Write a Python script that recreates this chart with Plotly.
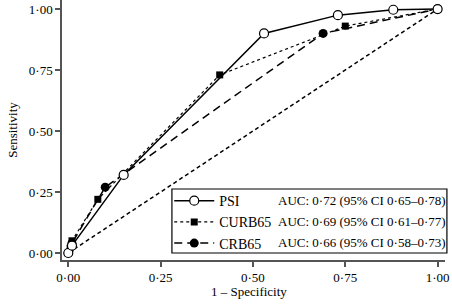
import plotly.graph_objects as go

# Data
psi_x = [0.0, 0.01, 0.15, 0.53, 0.73, 0.88, 1.0]
psi_y = [0.0, 0.03, 0.32, 0.90, 0.975, 0.997, 1.0]
curb_x = [0.0, 0.005, 0.01, 0.08, 0.41, 0.75, 1.0]
curb_y = [0.0, 0.02, 0.05, 0.22, 0.73, 0.93, 1.0]
crb_x = [0.0, 0.01, 0.10, 0.69, 1.0]
crb_y = [0.0, 0.04, 0.27, 0.90, 1.0]
ref_x = [0.0, 1.0]
ref_y = [0.0, 1.0]

names = ["PSI", "CURB65", "CRB65"]
auc_labels = ["AUC: 0·72 (95% CI 0·65–0·78)",
              "AUC: 0·69 (95% CI 0·61–0·77)",
              "AUC: 0·66 (95% CI 0·58–0·73)"]
tick_vals = [0, 0.25, 0.5, 0.75, 1.0]
tick_text = ["0·00", "0·25", "0·50", "0·75", "1·00"]
x_title = "1 – Specificity"
y_title = "Sensitivity"

FONT = "Liberation Serif"
FS = 13
AX = "#555555"

fig = go.Figure()
fig.add_trace(go.Scatter(x=ref_x, y=ref_y, mode="lines", showlegend=False,
                         line=dict(color="black", width=1.5, dash="4px,3px")))
fig.add_trace(go.Scatter(x=crb_x, y=crb_y, mode="lines+markers", name=names[2],
                         line=dict(color="black", width=1.5, dash="8px,5px"),
                         marker=dict(symbol="circle", size=9, color="black")))
fig.add_trace(go.Scatter(x=curb_x, y=curb_y, mode="lines+markers", name=names[1],
                         line=dict(color="black", width=1.2, dash="dot"),
                         marker=dict(symbol="square", size=7, color="black")))
fig.add_trace(go.Scatter(x=psi_x, y=psi_y, mode="lines+markers", name=names[0],
                         line=dict(color="black", width=1.5),
                         marker=dict(symbol="circle", size=9, color="white",
                                     line=dict(color="black", width=1.2))))

# legend box + AUC text
fig.add_shape(type="rect", xref="paper", yref="paper", x0=0.287, x1=1.005,
              y0=0.027, y1=0.273, line=dict(color="black", width=1.2),
              fillcolor="white", layer="below")
ys = [0.23, 0.15, 0.0654]
for lab, yy in zip(auc_labels, ys):
    fig.add_annotation(text=lab, xref="paper", yref="paper", x=0.559, y=yy,
                       xanchor="left", yanchor="middle", showarrow=False,
                       font=dict(family=FONT, size=FS, color="black"))

# x-axis title placed as annotation (closer to the tick labels)
fig.add_annotation(text=x_title, xref="paper", yref="paper", x=0.487, y=-0.122,
                   xanchor="center", yanchor="middle", showarrow=False,
                   font=dict(family=FONT, size=FS, color="black"))

fig.update_layout(
    width=452, height=308,
    margin=dict(l=62, r=7, t=0, b=48),
    paper_bgcolor="white", plot_bgcolor="rgba(0,0,0,0)",
    font=dict(family=FONT, size=FS, color="black"),
    legend=dict(x=0.28, y=0.288, xanchor="left", yanchor="top",
                traceorder="reversed", bgcolor="rgba(0,0,0,0)",
                borderwidth=0, itemwidth=40,
                font=dict(family=FONT, size=14, color="black")),
    xaxis=dict(range=[-0.017, 1.02], showgrid=False, zeroline=False,
               automargin=False,
               showline=True, linecolor=AX, linewidth=1.5,
               ticks="outside", ticklen=5, tickcolor=AX, tickwidth=1.5,
               tickvals=tick_vals, ticktext=tick_text),
    yaxis=dict(range=[-0.0287, 1.037], showgrid=False, zeroline=False,
               automargin=False,
               showline=True, linecolor=AX, linewidth=1.5,
               ticks="outside", ticklen=5, tickcolor=AX, tickwidth=1.5,
               tickvals=tick_vals, ticktext=tick_text,
               title=dict(text=y_title, standoff=8,
                          font=dict(family=FONT, size=FS))),
)
fig.write_html("out.html", config={"displayModeBar": False},
               post_script="document.body.style.margin='0';")
